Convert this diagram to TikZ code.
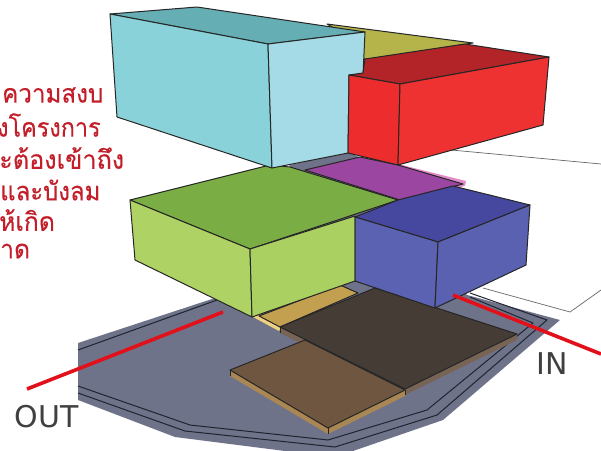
\documentclass[tikz,border=0pt]{standalone}
\usepackage{fontspec}
\setmainfont{DejaVu Sans}
\newfontfamily\thaifont[Script=Thai,FakeBold=0.3]{Loma}
\definecolor{slab}{HTML}{6F7389}
\definecolor{edgeC}{HTML}{1E2430}
\definecolor{thaired}{HTML}{C21F2B}
\tikzset{
  face/.style={draw=black!85,line width=1pt,line join=round},
  sline/.style={draw=edgeC,line width=1pt,line join=round},
  redline/.style={draw={rgb,255:red,226;green,16;blue,26},line width=3.6pt},
  thaitext/.style={anchor=west,inner sep=0pt,text=thaired,xscale=#1,transform shape,font=\thaifont\fontsize{26}{26}\selectfont},
  gate/.style={anchor=center,inner sep=0pt,text=black!75,font=\fontsize{30}{30}\selectfont}
}
\begin{document}
\begin{tikzpicture}[x=1pt,y=-1pt]
\useasboundingbox (0,0) rectangle (601,450);
\clip (0,0) rectangle (601,450);
% white site outline
\draw[draw=black!60,line width=0.7pt] (430,148) -- (601,164);
\draw[draw=black!60,line width=0.7pt] (483,288) -- (570,312) -- (601,290);
% slab
\fill[slab] (78,343) -- (218,297) -- (260,250) -- (290,165) -- (348,152) -- (398,175) -- (400,230) -- (467,295) -- (560,320) -- (443,420) -- (353,451) -- (285,451) -- (175,437) -- (78,400) -- cycle;
\draw[sline] (78,350) -- (217,300);
\draw[sline] (78,386) -- (190,425) -- (328,440) -- (427,410) -- (533,323) -- (470,297);
\draw[sline] (78,393) -- (185,431) -- (335,447) -- (437,415) -- (547,320) -- (470,293);
% plates
\fill[fill={rgb,255:red,240;green,208;blue,130}] (253,317) -- (279,331) -- (281,327) -- (260,314) -- cycle;
\draw[face,fill={rgb,255:red,194;green,160;blue,80}] (259,316) -- (340,285) -- (358,293) -- (280,327) -- cycle;
\fill[fill={rgb,255:red,120;green,100;blue,85}] (280,327) -- (280,333) -- (405,395) -- (517,340) -- (517,334) -- cycle;
\draw[draw=black!85,line width=1pt] (280,327) -- (280,333);
\draw[face,fill={rgb,255:red,69;green,60;blue,53}] (280,327) -- (375,288) -- (517,334) -- (405,389) -- cycle;
\fill[fill={rgb,255:red,169;green,134;blue,82}] (230,370) -- (230,376) -- (328,434) -- (405,396) -- (405,390) -- (328,428) -- cycle;
\draw[face,fill={rgb,255:red,110;green,86;blue,64}] (230,370) -- (305,340) -- (405,390) -- (328,428) -- cycle;
\draw[draw=black!85,line width=1pt] (230,370) -- (230,376) (328,428) -- (328,434) (405,390) -- (405,395);
% green box
\draw[face,fill={rgb,255:red,123;green,173;blue,69}] (130,200) -- (270,165) -- (290,167) -- (398,200) -- (250,249) -- cycle;
\draw[face,fill={rgb,255:red,174;green,210;blue,100}] (130,200) -- (250,249) -- (252,317) -- (135,260) -- cycle;
\draw[face,fill={rgb,255:red,169;green,208;blue,96}] (250,249) -- (355,216) -- (355,281) -- (252,317) -- cycle;
% olive plate
\draw[face,fill={rgb,255:red,181;green,180;blue,75}] (327,24) -- (473,43) -- (365,60) -- (350,38) -- cycle;
% cyan box
\draw[face,fill={rgb,255:red,100;green,174;blue,180}] (110,14) -- (197,7) -- (365,32) -- (268,44) -- cycle;
\draw[face,fill={rgb,255:red,138;green,210;blue,217}] (110,14) -- (268,44) -- (272,168) -- (117,117) -- cycle;
\draw[face,fill={rgb,255:red,165;green,219;blue,230}] (268,44) -- (365,32) -- (363,75) -- (349,75) -- (348,153) -- (272,168) -- cycle;
% purple plate
\fill[fill={rgb,255:red,225;green,140;blue,200}] (398,164) -- (466,181) -- (465,186) -- (400,201) -- cycle;
\draw[face,fill={rgb,255:red,155;green,70;blue,160}] (305,170) -- (360,157) -- (398,165) -- (463,184) -- (400,200) -- cycle;
% red box
\draw[face,fill={rgb,255:red,178;green,36;blue,40}] (349,75) -- (363,73) -- (365,59) -- (465,44) -- (549,57) -- (400,84) -- cycle;
\draw[face,fill={rgb,255:red,237;green,45;blue,45}] (349,75) -- (400,84) -- (398,165) -- (348,153) -- cycle;
\draw[face,fill={rgb,255:red,238;green,50;blue,50}] (400,84) -- (549,57) -- (543,125) -- (398,165) -- cycle;
% blue box
\draw[face,fill={rgb,255:red,70;green,72;blue,160}] (355,217) -- (398,200) -- (453,186) -- (530,205) -- (438,242) -- cycle;
\draw[face,fill={rgb,255:red,91;green,98;blue,178}] (355,217) -- (438,242) -- (435,308) -- (355,281) -- cycle;
\draw[face,fill={rgb,255:red,89;green,97;blue,176}] (438,242) -- (530,205) -- (526,265) -- (435,308) -- cycle;
% red lines
\coordinate (outA) at (27,389);
\coordinate (outB) at (223,312);
\coordinate (inA) at (453,295);
\coordinate (inB) at (601,354);
\draw[redline] (outA) -- (outB);
\draw[redline] (inA) -- (inB);
% labels
\node[gate] (outL) at (46.5,417) {OUT};
\node[gate] (inL) at (552,364) {IN};
\node[thaitext=0.93] (t1) at (2,95) {ความสงบ};
\node[thaitext=0.90] (t2) at (-3,125) {งโครงการ};
\node[thaitext=0.97] (t3) at (-1,158) {ะต้องเข้าถึง};
\node[thaitext=0.92] (t4) at (0,190) {และบังลม};
\node[thaitext=0.95] (t5) at (-1,220) {ห้เกิด};
\node[thaitext=0.95] (t6) at (0,251) {าด};
\end{tikzpicture}
\end{document}
